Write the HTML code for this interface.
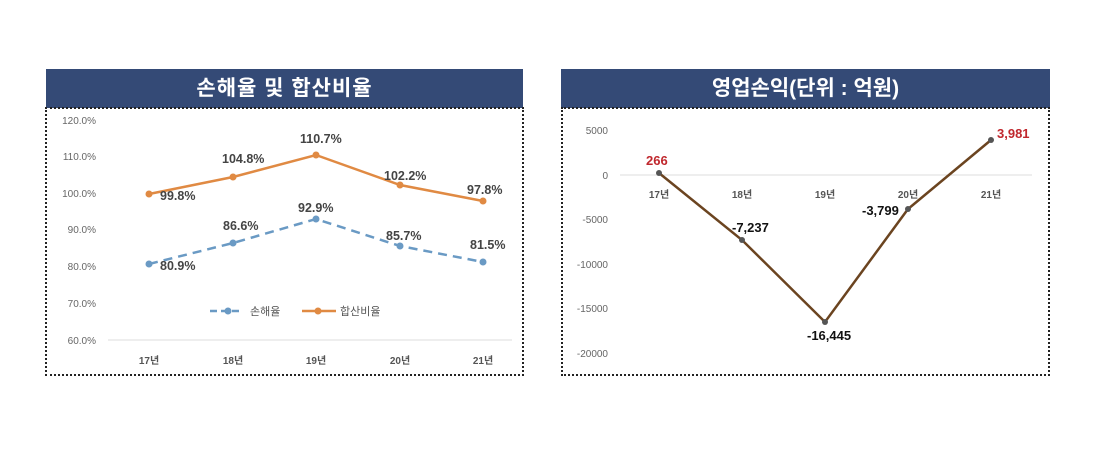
<!DOCTYPE html>
<html><head><meta charset="utf-8"><style>
body{margin:0;background:#fff;width:1100px;height:476px;overflow:hidden;font-family:"Liberation Sans","Noto Sans CJK KR",sans-serif;}
.hdr{position:absolute;background:#344a76;color:#fff;font-weight:bold;font-size:21px;text-align:center;line-height:39px;height:39px;top:69px;}
.box{position:absolute;border:2px dotted #222;top:107px;height:265px;}
svg{position:absolute;left:0;top:0}
</style></head><body>
<div class="hdr" style="left:46px;width:477px;letter-spacing:1px">손해율 및 합산비율</div>
<div class="box" style="left:45px;width:475px"></div>
<div class="hdr" style="left:561px;width:489px">영업손익(단위 : 억원)</div>
<div class="box" style="left:561px;width:485px"></div>
<svg width="1100" height="476" font-family="Liberation Sans, Noto Sans CJK KR, sans-serif">
<g font-size="10" fill="#666" text-anchor="end">
<text x="96" y="124">120.0%</text><text x="96" y="160">110.0%</text><text x="96" y="197">100.0%</text>
<text x="96" y="233">90.0%</text><text x="96" y="270">80.0%</text><text x="96" y="307">70.0%</text><text x="96" y="344">60.0%</text>
</g>
<line x1="108" y1="340" x2="512" y2="340" stroke="#ddd"/>
<g font-size="10" fill="#555" font-weight="bold" text-anchor="middle">
<text x="149" y="364">17년</text><text x="233" y="364">18년</text><text x="316" y="364">19년</text><text x="400" y="364">20년</text><text x="483" y="364">21년</text>
</g>
<polyline points="149,194 233,177 316,155 400,185 483,201" fill="none" stroke="#e08a43" stroke-width="2.5"/>
<g fill="#e08a43"><circle cx="149" cy="194" r="3.5"/><circle cx="233" cy="177" r="3.5"/><circle cx="316" cy="155" r="3.5"/><circle cx="400" cy="185" r="3.5"/><circle cx="483" cy="201" r="3.5"/></g>
<polyline points="149,264 233,243 316,219 400,246 483,262" fill="none" stroke="#6a9ac4" stroke-width="2.5" stroke-dasharray="9,6"/>
<g fill="#6a9ac4"><circle cx="149" cy="264" r="3.5"/><circle cx="233" cy="243" r="3.5"/><circle cx="316" cy="219" r="3.5"/><circle cx="400" cy="246" r="3.5"/><circle cx="483" cy="262" r="3.5"/></g>
<g font-size="12.5" font-weight="bold" fill="#444">
<text x="160" y="200">99.8%</text><text x="222" y="163">104.8%</text><text x="300" y="143">110.7%</text><text x="384" y="180">102.2%</text><text x="467" y="194">97.8%</text>
<text x="160" y="270">80.9%</text><text x="223" y="230">86.6%</text><text x="298" y="212">92.9%</text><text x="386" y="240">85.7%</text><text x="470" y="249">81.5%</text>
</g>
<line x1="210" y1="311" x2="240" y2="311" stroke="#6a9ac4" stroke-width="2.5" stroke-dasharray="7,4"/><circle cx="228" cy="311" r="3.5" fill="#6a9ac4"/>
<text x="250" y="315" font-size="11" fill="#555">손해율</text>
<line x1="302" y1="311" x2="336" y2="311" stroke="#e08a43" stroke-width="2.5"/><circle cx="318" cy="311" r="3.5" fill="#e08a43"/>
<text x="340" y="315" font-size="11" fill="#555">합산비율</text>

<g font-size="10" fill="#666" text-anchor="end">
<text x="608" y="134">5000</text><text x="608" y="179">0</text><text x="608" y="223">-5000</text>
<text x="608" y="268">-10000</text><text x="608" y="312">-15000</text><text x="608" y="357">-20000</text>
</g>
<line x1="620" y1="175" x2="1032" y2="175" stroke="#ddd"/>
<g font-size="10" fill="#555" font-weight="bold" text-anchor="middle">
<text x="659" y="198">17년</text><text x="742" y="198">18년</text><text x="825" y="198">19년</text><text x="908" y="198">20년</text><text x="991" y="198">21년</text>
</g>
<polyline points="659,173 742,240 825,322 908,209 991,140" fill="none" stroke="#6b4420" stroke-width="2.5"/>
<g fill="#555"><circle cx="659" cy="173" r="3"/><circle cx="742" cy="240" r="3"/><circle cx="825" cy="322" r="3"/><circle cx="908" cy="209" r="3"/><circle cx="991" cy="140" r="3"/></g>
<g font-size="13" font-weight="bold">
<text x="646" y="165" fill="#c0272d">266</text><text x="997" y="138" fill="#c0272d">3,981</text>
<text x="732" y="232" fill="#111">-7,237</text><text x="807" y="340" fill="#111">-16,445</text><text x="862" y="215" fill="#111">-3,799</text>
</g>
</svg>
</body></html>
